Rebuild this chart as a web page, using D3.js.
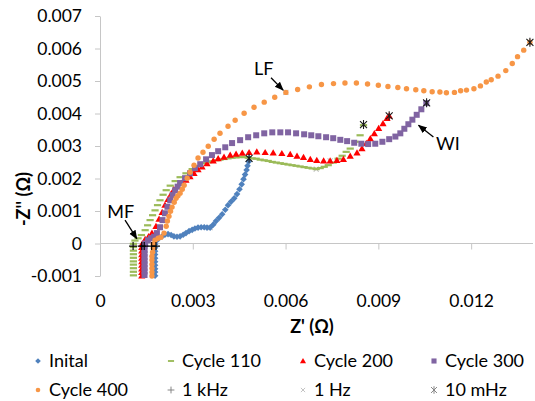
<!DOCTYPE html>
<html>
<head>
<meta charset="utf-8">
<script src="https://cdn.jsdelivr.net/npm/d3@7"></script>
<style>
  body { margin: 0; background: #fff; }
  svg text { font-family: Lato, "Open Sans", sans-serif; fill: #000; }
  .axis text { font-size: 17.5px; }
  .axis path, .axis line { stroke: #c6c6c6; }
  .axis-title { font-size: 18px; font-weight: bold; }
  .note { font-size: 18px; }
  .legend { font-size: 18px; }
</style>
</head>
<body>
<div id="chart"></div>
<script>
// points in milliohms: [Z', -Z'']
const inital = [[1.78,-0.99],[1.78,-0.88],[1.78,-0.78],[1.78,-0.67],[1.78,-0.56],[1.78,-0.45],[1.78,-0.34],[1.78,-0.24],[1.78,-0.13],[1.78,-0.02],
  [1.83,0.09],[1.91,0.16],[2.01,0.22],[2.10,0.27],[2.20,0.29],[2.30,0.26],[2.39,0.22],[2.49,0.21],[2.59,0.22],[2.69,0.27],[2.78,0.32],
  [2.88,0.38],[2.98,0.42],[3.07,0.46],[3.17,0.49],[3.27,0.50],[3.37,0.50],[3.46,0.49],[3.56,0.49],[3.66,0.58],[3.75,0.69],[3.85,0.79],
  [3.95,0.90],[4.05,1.04],[4.14,1.18],[4.24,1.29],[4.34,1.39],[4.43,1.52],[4.51,1.67],[4.58,1.82],[4.64,1.98],[4.69,2.12],[4.74,2.26],
  [4.77,2.39],[4.81,2.52],[4.82,2.62]];

const cycle110 = [[1.08,-0.98],[1.08,-0.87],[1.08,-0.76],[1.08,-0.65],[1.08,-0.55],[1.08,-0.44],[1.08,-0.33],[1.08,-0.22],[1.08,-0.11],[1.08,-0.01],
  [1.13,0.09],[1.23,0.16],[1.34,0.26],[1.46,0.41],[1.54,0.56],[1.62,0.72],[1.70,0.87],[1.78,1.02],[1.86,1.18],[1.94,1.33],[2.04,1.50],
  [2.14,1.64],[2.27,1.78],[2.43,1.92],[2.59,2.04],[2.78,2.16],[2.98,2.29],[3.17,2.38],[3.40,2.47],[3.51,2.50],[3.62,2.53],[3.75,2.56],
  [3.88,2.58],[4.01,2.60],[4.14,2.62],[4.27,2.64],[4.40,2.65],[4.53,2.66],[4.66,2.66],[4.79,2.64],[4.92,2.62],[5.05,2.61],[5.18,2.58],
  [5.31,2.56],[5.44,2.54],[5.57,2.51],[5.70,2.49],[5.83,2.47],[5.95,2.45],[6.08,2.43],[6.21,2.41],[6.34,2.39],[6.47,2.37],[6.60,2.35],
  [6.73,2.33],[6.86,2.31],[6.99,2.29],[7.12,2.32],[7.25,2.36],[7.38,2.41],[7.54,2.49],[7.70,2.61],[7.83,2.70],[7.96,2.82],[8.09,2.92],
  [8.25,3.13],[8.41,3.33],[8.52,3.64]];

const cycle200 = [[1.35,-1.00],[1.35,-0.89],[1.35,-0.78],[1.35,-0.67],[1.35,-0.56],[1.35,-0.45],[1.35,-0.34],[1.35,-0.23],[1.35,-0.12],[1.36,-0.02],
  [1.46,0.13],[1.57,0.21],[1.68,0.32],[1.81,0.53],[1.91,0.75],[2.01,0.96],[2.10,1.18],[2.20,1.36],[2.30,1.52],[2.39,1.66],[2.52,1.76],
  [2.65,1.86],[2.78,1.95],[2.91,2.06],[3.04,2.16],[3.17,2.27],[3.30,2.36],[3.46,2.46],[3.66,2.54],[3.82,2.61],[4.01,2.66],[4.21,2.72],
  [4.40,2.75],[4.60,2.78],[4.82,2.80],[5.07,2.82],[5.34,2.80],[5.60,2.79],[5.88,2.77],[6.15,2.74],[6.37,2.69],[6.58,2.65],[6.80,2.59],
  [7.01,2.56],[7.23,2.54],[7.44,2.54],[7.66,2.56],[7.87,2.59],[8.09,2.69],[8.31,2.79],[8.47,2.92],[8.61,3.08],[8.74,3.23],[8.87,3.38],
  [9.01,3.54],[9.15,3.69],[9.28,3.85],[9.35,3.93]];

const cycle300 = [[1.44,-0.97],[1.44,-0.86],[1.44,-0.75],[1.44,-0.64],[1.44,-0.53],[1.44,-0.42],[1.44,-0.31],[1.44,-0.20],[1.44,-0.09],[1.46,0.00],
  [1.55,0.10],[1.65,0.16],[1.75,0.21],[1.84,0.32],[1.94,0.50],[2.02,0.72],[2.10,0.93],[2.18,1.13],[2.27,1.33],[2.35,1.49],[2.43,1.64],
  [2.51,1.75],[2.59,1.86],[2.75,2.01],[2.91,2.16],[3.07,2.32],[3.24,2.44],[3.43,2.59],[3.62,2.72],[3.82,2.84],[4.05,2.96],[4.27,3.09],
  [4.53,3.18],[4.79,3.27],[5.05,3.33],[5.31,3.39],[5.57,3.42],[5.83,3.42],[6.08,3.42],[6.34,3.39],[6.60,3.36],[6.83,3.33],[7.06,3.30],
  [7.31,3.27],[7.54,3.24],[7.77,3.19],[7.99,3.15],[8.22,3.10],[8.45,3.07],[8.67,3.06],[8.90,3.07],[9.13,3.13],[9.35,3.21],[9.55,3.29],
  [9.71,3.39],[9.84,3.53],[9.97,3.67],[10.10,3.81],[10.24,3.96],[10.39,4.13],[10.55,4.32]];

const cycle400 = [[1.68,-1.00],[1.68,-0.88],[1.68,-0.76],[1.68,-0.64],[1.68,-0.51],[1.68,-0.39],[1.70,-0.27],[1.72,-0.14],[1.72,-0.02],
  [1.78,0.10],[1.88,0.16],[1.97,0.19],[2.07,0.32],[2.14,0.53],[2.18,0.69],[2.23,0.84],[2.28,0.99],[2.33,1.12],[2.40,1.27],[2.46,1.39],
  [2.52,1.47],[2.59,1.55],[2.66,1.67],[2.72,1.79],[2.82,2.01],[2.91,2.19],[3.04,2.41],[3.17,2.63],[3.33,2.81],[3.50,2.99],[3.69,3.21],
  [3.88,3.39],[4.14,3.61],[4.37,3.79],[4.66,4.01],[4.98,4.19],[5.31,4.35],[5.65,4.50],[6.01,4.65],[6.39,4.74],[6.77,4.82],[7.16,4.89],
  [7.55,4.92],[7.92,4.94],[8.29,4.94],[8.65,4.91],[9.00,4.87],[9.31,4.83],[9.63,4.80],[9.91,4.76],[10.21,4.73],[10.47,4.70],[10.74,4.67],
  [10.99,4.66],[11.20,4.64],[11.46,4.65],[11.66,4.70],[11.85,4.72],[12.09,4.76],[12.30,4.85],[12.49,4.97],[12.65,5.04],[12.87,5.15],
  [13.12,5.32],[13.33,5.54],[13.50,5.75],[13.70,5.95],[13.90,6.19]];

const freq1kHz = [[1.07,-0.08],[1.35,-0.08],[1.43,-0.08],[1.67,-0.08],[1.81,-0.08]];
const freq1Hz = [[3.56,0.49],[6.99,2.29],[7.44,2.54],[8.67,3.06],[6.01,4.65]];
const freq10mHz = [[4.82,2.62],[8.52,3.66],[9.35,3.93],[10.56,4.33],[13.90,6.19]];

const seriesNames = ["Inital", "Cycle 110", "Cycle 200", "Cycle 300", "Cycle 400", "1 kHz", "1 Hz", "10 mHz"];
const seriesColors = ["#4f81bd", "#9bbb59", "#ff0000", "#8064a2", "#f79646", "#000000", "#bfbfbf", "#1a1a1a"];
const legendColors = ["#4f81bd", "#9bbb59", "#ff0000", "#8064a2", "#f79646", "#808080", "#bfbfbf", "#808080"];
const seriesShapes = ["diamond", "dash", "triangle", "square", "circle", "plus", "cross", "star"];

const xTicks = [0, 0.003, 0.006, 0.009, 0.012];
const xTickLabels = ["0", "0.003", "0.006", "0.009", "0.012"];
const yTicks = [-0.001, 0, 0.001, 0.002, 0.003, 0.004, 0.005, 0.006, 0.007];
const yTickLabels = ["-0.001", "0", "0.001", "0.002", "0.003", "0.004", "0.005", "0.006", "0.007"];

// annotations, in milliohms: label position, arrow start, arrow end
const notes = [
  { text: "MF", at: [0.67, 0.77], from: [0.81, 0.72], to: [1.19, 0.15] },
  { text: "LF", at: [5.29, 5.18], from: [5.53, 5.10], to: [5.92, 4.72] },
  { text: "WI", at: [11.25, 2.87], from: [10.78, 3.28], to: [10.30, 3.64] }
];

const toOhm = p => [p[0] / 1000, p[1] / 1000];

const svg = d3.select("#chart").append("svg")
    .attr("width", 535)
    .attr("height", 401);

const x = d3.scaleLinear().domain([0, 0.014]).range([100, 533]);
const y = d3.scaleLinear().domain([-0.001, 0.007]).range([276, 16]);

const shapePath = {
    diamond: "M0,-3.3L3.3,0L0,3.3L-3.3,0Z",
    square: "M-3,-3H3V3H-3Z",
    triangle: "M0,-3.6L3.6,2.6L-3.6,2.6Z",
    circle: d3.symbol(d3.symbolCircle, 23)(),
    dash: "M-3.6,-1.1H3.6V1.1H-3.6Z",
    plus: "M-4,0H4M0,-4V4",
    cross: "M-2.5,-2.5L2.5,2.5M-2.5,2.5L2.5,-2.5",
    star: "M-3.5,-3.5L3.5,3.5M-3.5,3.5L3.5,-3.5M0,-4.5V4.5"
};
const lineShapes = ["plus", "cross", "star"];

function styleMarker(sel, shape, color) {
    if (lineShapes.includes(shape)) {
        sel.attr("fill", "none").attr("stroke", color).attr("stroke-width", 1.1);
    } else {
        sel.attr("fill", color).attr("stroke", "none");
    }
}

// y axis
svg.append("g")
    .attr("class", "axis")
    .attr("transform", `translate(${x(0)},0)`)
    .call(d3.axisLeft(y).tickValues(yTicks).tickSize(5).tickSizeOuter(0).tickPadding(13)
        .tickFormat((d, i) => yTickLabels[i]));

// x axis line crosses at zero
svg.append("g")
    .attr("class", "axis")
    .attr("transform", `translate(0,${y(0)})`)
    .call(d3.axisBottom(x).tickValues(xTicks.slice(1)).tickSize(6).tickSizeOuter(0).tickFormat(""))
    .call(g => g.select(".domain").attr("d", `M${x.range()[0]},0H${x.range()[1]}`));

// x tick labels below the plot
svg.append("g")
    .attr("class", "axis")
    .attr("transform", "translate(0,295)")
    .call(d3.axisBottom(x).tickValues(xTicks).tickSize(0).tickPadding(0)
        .tickFormat((d, i) => xTickLabels[i]))
    .call(g => g.select(".domain").remove());

svg.append("text")
    .attr("class", "axis-title")
    .attr("x", 312)
    .attr("y", 333)
    .attr("text-anchor", "middle")
    .text("Z' (Ω)");

svg.append("text")
    .attr("class", "axis-title")
    .attr("transform", "translate(30,199) rotate(-90)")
    .attr("text-anchor", "middle")
    .text("-Z'' (Ω)");

// all series, in the order they are stacked
const allData = [inital, cycle110, cycle200, cycle300, cycle400, freq1kHz, freq1Hz, freq10mHz];
const drawOrder = [6, 0, 1, 2, 3, 4, 5, 7];

drawOrder.forEach(i => {
    const shape = seriesShapes[i];
    svg.append("g")
        .selectAll("path")
        .data(allData[i].map(toOhm))
        .join("path")
        .attr("d", shapePath[shape])
        .attr("transform", d => `translate(${x(d[0])},${y(d[1])})`)
        .call(styleMarker, shape, seriesColors[i]);
});

// annotations
svg.append("defs").append("marker")
    .attr("id", "head")
    .attr("viewBox", "0 0 10 10")
    .attr("refX", 9)
    .attr("refY", 5)
    .attr("markerWidth", 7)
    .attr("markerHeight", 7)
    .attr("orient", "auto")
    .append("path")
    .attr("d", "M0,1L10,5L0,9Z")
    .attr("fill", "#000");

notes.forEach(n => {
    const a = toOhm(n.at), f = toOhm(n.from), t = toOhm(n.to);
    svg.append("text")
        .attr("class", "note")
        .attr("x", x(a[0]))
        .attr("y", y(a[1]))
        .attr("text-anchor", "middle")
        .text(n.text);
    svg.append("line")
        .attr("x1", x(f[0])).attr("y1", y(f[1]))
        .attr("x2", x(t[0])).attr("y2", y(t[1]))
        .attr("stroke", "#000")
        .attr("stroke-width", 1.3)
        .attr("marker-end", "url(#head)");
});

// legend, 4 columns x 2 rows
const colX = [38, 171, 303, 434];
const rowY = [361, 390];
const legend = svg.append("g")
    .selectAll("g")
    .data(seriesNames)
    .join("g")
    .attr("transform", (d, i) => `translate(${colX[i % 4]},${rowY[Math.floor(i / 4)]})`);

legend.append("path")
    .attr("d", (d, i) => shapePath[seriesShapes[i]])
    .each(function (d, i) {
        d3.select(this).call(styleMarker, seriesShapes[i], legendColors[i]);
    })
    .attr("transform", "scale(0.85)");

legend.append("text")
    .attr("class", "legend")
    .attr("x", 11)
    .attr("y", 6)
    .text(d => d);
</script>
</body>
</html>
